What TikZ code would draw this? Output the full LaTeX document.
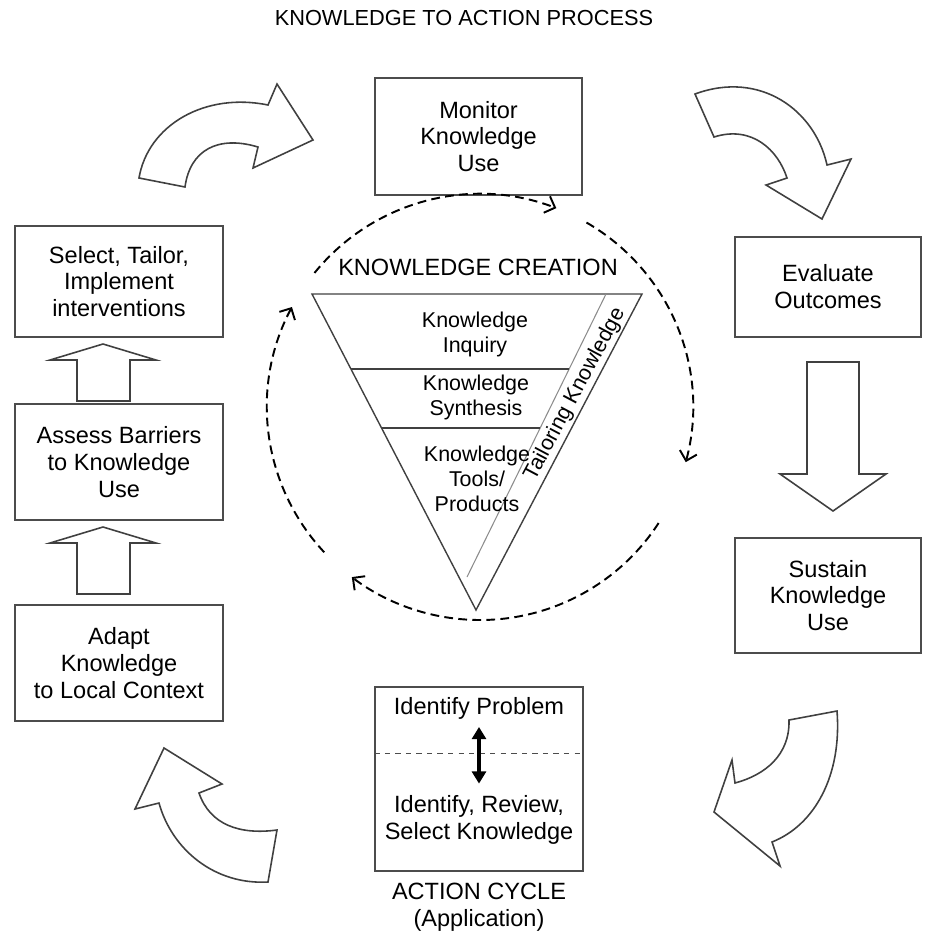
\documentclass[tikz,border=0pt]{standalone}
\usepackage{fontspec}
\setmainfont{Liberation Sans}
\usetikzlibrary{arrows.meta}
\newcommand\boxfont{\fontsize{13.4}{15.3}\selectfont}
\newcommand\trifont{\fontsize{12.2}{14.3}\selectfont}
\newcommand\headfont{\fontsize{12.4}{14}\selectfont}
\begin{document}
\begin{tikzpicture}[
  x=0.02cm, y=-0.02cm,
  box/.style={rectangle, draw=black!70, line width=0.9pt, text centered, align=center, font=\boxfont},
  lbl/.style={text centered, align=center, font=\boxfont},
  tlbl/.style={text centered, align=center, font=\trifont},
  tri/.style={draw=black!75, line width=0.8pt},
  fatarw/.style={draw=black!75, line width=0.9pt, fill=white, line join=miter},
  cyc/.style={dash pattern=on 5pt off 3pt, line width=1.1pt, -{Straight Barb[length=5pt,width=10pt]}}
  ]
\useasboundingbox (0,0) rectangle (926,934);

% title
\node [lbl, font=\headfont] (title) at (464,18) {KNOWLEDGE TO ACTION PROCESS};

% action cycle boxes
\node [box, minimum width=4.14cm, minimum height=2.34cm] (monitor) at (478.5,136.5) {Monitor\\Knowledge\\Use};
\node [box, minimum width=4.16cm, minimum height=2.22cm] (select) at (119,281.5) {Select, Tailor,\\Implement\\interventions};
\node [box, minimum width=4.16cm, minimum height=2.32cm] (assess) at (119,462) {Assess Barriers\\to Knowledge\\Use};
\node [box, minimum width=4.16cm, minimum height=2.32cm] (adapt) at (119,663) {Adapt\\Knowledge\\to Local Context};
\node [box, minimum width=3.72cm, minimum height=2.0cm] (evaluate) at (828,287) {Evaluate\\Outcomes};
\node [box, minimum width=3.72cm, minimum height=2.3cm] (sustain) at (828,595.5) {Sustain\\Knowledge\\Use};

% identify problem box
\node [box, minimum width=4.16cm, minimum height=3.68cm] (action) at (479,779) {};
\node [lbl] (idprob) at (479,708) {Identify Problem};
\node [lbl] (idrev) at (479,819.5) {Identify, Review,\\Select Knowledge};
\draw [draw=black!70, dashed, line width=0.5pt] (action.west |- 0,753) -- (action.east |- 0,753);
\draw [line width=1.8pt, shorten <=1pt, shorten >=3pt, {Triangle[length=7pt,width=8pt]}-{Triangle[length=7pt,width=8pt]}] (idprob.south) -- (idrev.north);
\node [lbl] (cyclbl) at (479,907) {ACTION CYCLE\\(Application)};

% straight arrows
\foreach \t/\b in {344/401, 527/594}
  \draw [fatarw] (103,\t) -- (156,\t+16) -- (130,\t+16) -- (130,\b) -- (77,\b) -- (77,\t+16) -- (50,\t+16) -- cycle;
\draw [fatarw] (807,362) -- (859,362) -- (859,474) -- (886,474) -- (833,511) -- (780,474) -- (807,474) -- cycle;

% curved arrows
\draw [fatarw] (139,178) .. controls (148,125) and (205,92) .. (268,105) -- (277,84) -- (313,140) -- (253,168) -- (258,147) .. controls (218,135) and (190,150) .. (185,187) -- cycle;
\draw [fatarw] (695,94) .. controls (760,70) and (815,110) .. (827,165) -- (851,159) -- (822,219) -- (766,185) -- (787,178) .. controls (778,150) and (752,125) .. (714,137) -- cycle;
\draw [fatarw] (837,711) .. controls (842,775) and (815,825) .. (772,842) -- (780,866) -- (714,812) -- (732,760) -- (735,783) .. controls (765,775) and (790,755) .. (789,720) -- cycle;
\draw [fatarw] (164,748) -- (222,784) -- (199,793) .. controls (210,825) and (240,835) .. (277,830) -- (268,882) .. controls (215,885) and (172,850) .. (159,803) -- (135,809) -- cycle;

% knowledge creation funnel
\node [lbl] (kclbl) at (478,267) {KNOWLEDGE CREATION};
\coordinate (tl) at (312,294);
\coordinate (tr) at (642,294);
\coordinate (tb) at (476,610);
\draw [tri] (tl) -- (tr) -- (tb) -- cycle;
\draw [tri, draw=black!45, line width=0.6pt] (606,294) -- (467,577);
\draw [tri] (351,369) -- (569,369);
\draw [tri] (382,428) -- (540,428);
\node [tlbl] (inquiry) at (475,334.5) {Knowledge\\Inquiry};
\node [tlbl] (synth) at (476,397.5) {Knowledge\\Synthesis};
\node [tlbl] (tools) at (477,479) {Knowledge\\Tools/\\Products};
\node [tlbl, rotate=62, inner sep=0pt] (tailor) at (575,394) {Tailoring Knowledge};

% dashed cycle round the funnel
\coordinate (kc) at (480,407);
\draw [cyc] (kc) ++(-141:213) arc[start angle=-141, end angle=-69, radius=213];
\draw [cyc] (kc) ++(-60:213) arc[start angle=-60, end angle=15, radius=213];
\draw [cyc] (kc) ++(33:213) arc[start angle=33, end angle=127, radius=213];
\draw [cyc] (kc) ++(137:213) arc[start angle=137, end angle=208, radius=213];

\end{tikzpicture}
\end{document}
